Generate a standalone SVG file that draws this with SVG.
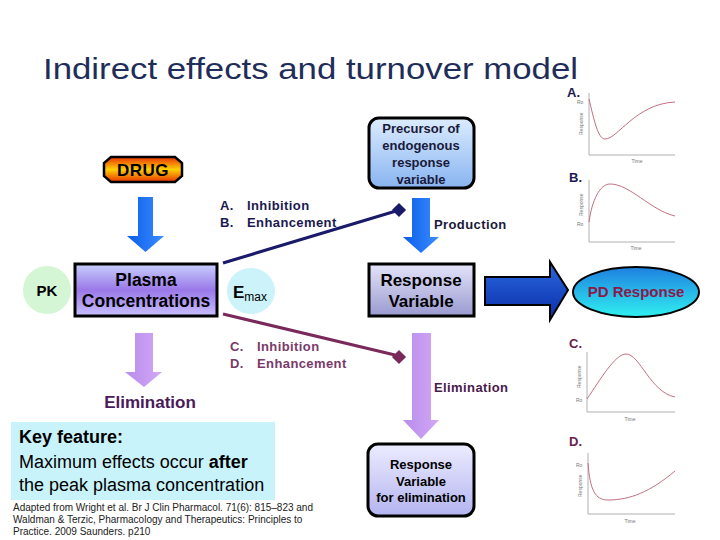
<svg xmlns="http://www.w3.org/2000/svg" width="720" height="540" viewBox="0 0 720 540">
<defs>
<linearGradient id="gDrug" x1="0" y1="0" x2="0" y2="1"><stop offset="0" stop-color="#e83000"/><stop offset="0.5" stop-color="#ffd000"/><stop offset="1" stop-color="#e83000"/></linearGradient>
<linearGradient id="gPlasma" x1="0" y1="0" x2="0" y2="1"><stop offset="0" stop-color="#c8d0ff"/><stop offset="0.5" stop-color="#9a78e8"/><stop offset="1" stop-color="#c8c0ff"/></linearGradient>
<linearGradient id="gPrec" x1="0" y1="0" x2="0" y2="1"><stop offset="0" stop-color="#dcecff"/><stop offset="1" stop-color="#88b4f0"/></linearGradient>
<linearGradient id="gResp" x1="0" y1="0" x2="0" y2="1"><stop offset="0" stop-color="#e4e4fa"/><stop offset="1" stop-color="#9a9ad0"/></linearGradient>
<linearGradient id="gElim" x1="0" y1="0" x2="0" y2="1"><stop offset="0" stop-color="#ececff"/><stop offset="1" stop-color="#b4b4f0"/></linearGradient>
<linearGradient id="gPD" x1="0" y1="0" x2="0" y2="1"><stop offset="0" stop-color="#1e80e0"/><stop offset="1" stop-color="#30f0f0"/></linearGradient>
<linearGradient id="gBig" x1="0" y1="0" x2="0" y2="1"><stop offset="0" stop-color="#2a68e0"/><stop offset="1" stop-color="#0a2ea8"/></linearGradient>
<linearGradient id="gBlue" x1="0" y1="0" x2="1" y2="0"><stop offset="0" stop-color="#0a5ee8"/><stop offset="1" stop-color="#3a8cff"/></linearGradient>
<linearGradient id="gPurp" x1="0" y1="0" x2="1" y2="0"><stop offset="0" stop-color="#b88cec"/><stop offset="1" stop-color="#d2a8f6"/></linearGradient>
</defs>
<style>
text{font-family:"Liberation Sans",Arial,sans-serif}
.b{font-weight:bold}
.nav{fill:#1a1a50}
.curve{fill:none;stroke:#c07080;stroke-width:1}
.axis{fill:none;stroke:#b0b0b0;stroke-width:1}
.sm{font-size:5px;fill:#777}
.lbl{font-size:13px;font-weight:bold}
.ls{letter-spacing:0.4px}
</style>
<rect width="720" height="540" fill="#ffffff"/>
<text x="43" y="79" font-size="29" fill="#1f2d5a" textLength="535" lengthAdjust="spacingAndGlyphs">Indirect effects and turnover model</text>

<g id="connectors">
<line x1="223" y1="263" x2="396" y2="211" stroke="#1a1a6a" stroke-width="3"/>
<rect x="394" y="205" width="10" height="10" fill="#1a1a6a" transform="rotate(45 399 210)"/>
<line x1="223" y1="314" x2="395" y2="355" stroke="#7a2a5a" stroke-width="3"/>
<rect x="394" y="352" width="10" height="10" fill="#7a2a5a" transform="rotate(45 399 357)"/>
<polygon points="138,197 153,197 153,236 164,236 145.5,252 127,236 138,236" fill="url(#gBlue)"/>
<polygon points="412,198 430,198 430,237 439,237 421,253 403,237 412,237" fill="url(#gBlue)"/>
<polygon points="135,333 153,333 153,372 162,372 144,387 125,372 135,372" fill="url(#gPurp)"/>
<polygon points="412,333 431,333 431,420 439,420 421,439 403,420 412,420" fill="url(#gPurp)"/>
<polygon points="485,277 550,277 550,262 568,290 550,320 550,305 485,305" fill="url(#gBig)" stroke="#000" stroke-width="2"/>
</g>

<g id="drug">
<polygon points="111,157 175,157 182,163 182,176 175,182 111,182 104,176 104,163" fill="url(#gDrug)" stroke="#000" stroke-width="2.5"/>
<text x="143" y="176" font-size="17" class="b" text-anchor="middle" fill="#000" letter-spacing="0.5">DRUG</text>
</g>

<g id="pk">
<ellipse cx="47" cy="290" rx="24" ry="24" fill="#d4f6d4"/>
<text x="47" y="296" font-size="15" class="b" text-anchor="middle" fill="#000">PK</text>
</g>

<g id="plasma">
<rect x="75" y="264" width="142" height="52" fill="url(#gPlasma)" stroke="#000" stroke-width="3"/>
<text x="146" y="286" font-size="17.5" class="b" text-anchor="middle" fill="#000">Plasma</text>
<text x="146" y="307" font-size="17.5" class="b" text-anchor="middle" fill="#000">Concentrations</text>
</g>

<g id="emax">
<ellipse cx="251" cy="291" rx="24" ry="23" fill="#ccf2fa"/>
<text x="233" y="298" font-size="17" class="b" fill="#000">E<tspan font-size="12" font-weight="normal" dy="3">max</tspan></text>
</g>

<g id="labelsAB">
<text x="220" y="210" class="lbl nav ls">A.<tspan x="247">Inhibition</tspan></text>
<text x="220" y="227" class="lbl nav ls">B.<tspan x="247">Enhancement</tspan></text>
</g>
<g id="labelsCD">
<text x="230" y="351" class="lbl ls" fill="#7a3a6a">C.<tspan x="257">Inhibition</tspan></text>
<text x="230" y="368" class="lbl ls" fill="#7a3a6a">D.<tspan x="257">Enhancement</tspan></text>
</g>

<g id="precursor">
<rect x="369" y="118" width="105" height="70" rx="10" fill="url(#gPrec)" stroke="#000" stroke-width="3"/>
<text x="421" y="133" class="lbl" text-anchor="middle" fill="#1a1a3a">Precursor of</text>
<text x="421" y="150" class="lbl" text-anchor="middle" fill="#1a1a3a">endogenous</text>
<text x="421" y="167" class="lbl" text-anchor="middle" fill="#1a1a3a">response</text>
<text x="421" y="184" class="lbl" text-anchor="middle" fill="#1a1a3a">variable</text>
</g>
<text x="434" y="229" class="lbl ls" fill="#1a1a3a">Production</text>

<g id="response">
<rect x="369" y="264" width="105" height="52" fill="url(#gResp)" stroke="#000" stroke-width="3"/>
<text x="421" y="286" font-size="17" class="b" text-anchor="middle" fill="#000">Response</text>
<text x="421" y="307" font-size="17" class="b" text-anchor="middle" fill="#000">Variable</text>
</g>

<g id="pd">
<ellipse cx="636" cy="292" rx="63" ry="25" fill="url(#gPD)" stroke="#000" stroke-width="2"/>
<text x="636" y="297" font-size="15" class="b" text-anchor="middle" fill="#8a1a4a">PD Response</text>
</g>

<text x="434" y="392" class="lbl ls" fill="#4a1a4a">Elimination</text>
<g id="respelim">
<rect x="368" y="444" width="106" height="72" rx="10" fill="url(#gElim)" stroke="#000" stroke-width="3"/>
<text x="421" y="469" class="lbl" text-anchor="middle" fill="#000">Response</text>
<text x="421" y="486" class="lbl" text-anchor="middle" fill="#000">Variable</text>
<text x="421" y="502" class="lbl" text-anchor="middle" fill="#000">for elimination</text>
</g>

<text x="150" y="408" font-size="17" class="b" text-anchor="middle" fill="#4a1a5a">Elimination</text>

<g id="keyfeature">
<rect x="11" y="422" width="264" height="78" fill="#c9f3fa"/>
<text x="19" y="443" font-size="18" class="b" fill="#000">Key feature:</text>
<text x="19" y="468" font-size="18" fill="#000">Maximum effects occur <tspan font-weight="bold">after</tspan></text>
<text x="19" y="491" font-size="18" fill="#000">the peak plasma concentration</text>
</g>

<g id="citation" font-size="10" fill="#222">
<text x="13" y="511">Adapted from Wright et al. Br J Clin Pharmacol. 71(6): 815–823 and</text>
<text x="13" y="523">Waldman &amp; Terzic, Pharmacology and Therapeutics: Principles to</text>
<text x="13" y="535">Practice. 2009 Saunders. p210</text>
</g>

<g id="graphA">
<text x="567" y="97" class="lbl nav">A.</text>
<path class="axis" d="M589,93 V155 H675"/>
<path class="curve" d="M589,99 C594,120 598,139 605,139 C618,139 635,104 675,102"/>
<text x="577" y="104" class="sm">Ro</text>
<text class="sm" transform="translate(583,135) rotate(-90)">Response</text>
<text x="637" y="163" class="sm" text-anchor="middle">Time</text>
</g>
<g id="graphB">
<text x="569" y="182" class="lbl nav">B.</text>
<path class="axis" d="M589,180 V242 H675"/>
<path class="curve" d="M589,222 C592,200 600,184 610,184 C630,184 650,210 675,216"/>
<text x="577" y="226" class="sm">Ro</text>
<text class="sm" transform="translate(583,216) rotate(-90)">Response</text>
<text x="636" y="250" class="sm" text-anchor="middle">Time</text>
</g>
<g id="graphC">
<text x="569" y="348" class="lbl" fill="#6a2050">C.</text>
<path class="axis" d="M587,352 V412 H675"/>
<path class="curve" d="M587,399 C600,380 615,354 626,354 C640,354 650,392 675,397"/>
<text x="576" y="402" class="sm">Ro</text>
<text class="sm" transform="translate(581,388) rotate(-90)">Response</text>
<text x="630" y="421" class="sm" text-anchor="middle">Time</text>
</g>
<g id="graphD">
<text x="569" y="446" class="lbl" fill="#6a2050">D.</text>
<path class="axis" d="M588,453 V514 H675"/>
<path class="curve" d="M588,463 C590,490 595,500 608,500 C630,500 650,492 675,471"/>
<text x="576" y="467" class="sm">Ro</text>
<text class="sm" transform="translate(582,497) rotate(-90)">Response</text>
<text x="630" y="523" class="sm" text-anchor="middle">Time</text>
</g>
</svg>
